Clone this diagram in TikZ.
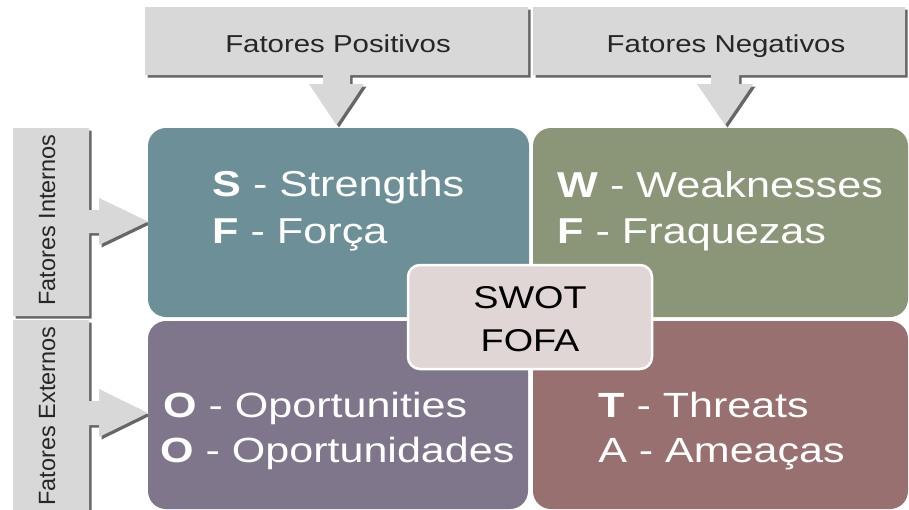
\documentclass[tikz,border=0pt]{standalone}
\usepackage{fontspec}
\setmainfont{Liberation Sans}
\definecolor{callgray}{RGB}{216,216,216}
\definecolor{sfill}{RGB}{109,143,151}
\definecolor{wfill}{RGB}{139,149,119}
\definecolor{ofill}{RGB}{127,118,140}
\definecolor{tfill}{RGB}{152,112,112}
\definecolor{cfill}{RGB}{224,214,214}
\tikzset{
  callout/.style={fill=callgray, preaction={fill=black!70, opacity=0.85, transform canvas={shift={(2.5pt,-2.5pt)}}}},
  quad/.style={rounded corners=18pt},
  lbl/.style={font=\fontsize{24.5}{29}\selectfont, xscale=1.2, inner sep=0pt, anchor=base, text=black!85},
  side/.style={font=\fontsize{23.5}{28}\selectfont, rotate=90, inner sep=0pt, anchor=base, text=black!85},
  big/.style={text=white, font=\fontsize{36}{43}\selectfont, xscale=1.2, inner sep=0pt, anchor=base west},
  bigb/.style={text=white, font=\fontsize{35}{42}\selectfont, xscale=1.23, inner sep=0pt, anchor=base west},
  swotlbl/.style={text=black, font=\fontsize{31.5}{36}\selectfont, xscale=1.2, inner sep=0pt, anchor=base},
  centerbox/.style={draw=white, line width=2.5pt, fill=cfill, rounded corners=12pt, minimum width=244pt, minimum height=104pt, inner sep=0pt}
}
\begin{document}
\begin{tikzpicture}[x=1pt,y=-1pt]
\useasboundingbox (0,0) rectangle (909,509);
\clip (0,0) rectangle (909,509);
\fill[white] (0,0) rectangle (909,509);

% top callouts
\fill[callout] (145,7) -- (528,7) -- (528,75) -- (350,75) -- (350,84) -- (364,84) -- (336.5,125) -- (309,84) -- (323,84) -- (323,75) -- (145,75) -- cycle;
\fill[callout] (533,7) -- (905,7) -- (905,75) -- (739,75) -- (739,84) -- (753,84) -- (725,125) -- (697,84) -- (711,84) -- (711,75) -- (533,75) -- cycle;
% left callouts
\fill[callout] (13,128) -- (89,128) -- (89,210) -- (99,210) -- (99,198) -- (148,221.5) -- (99,245) -- (99,233) -- (89,233) -- (89,316) -- (13,316) -- cycle;
\fill[callout] (13,320) -- (89,320) -- (89,401) -- (99,401) -- (99,389) -- (148,413) -- (99,437) -- (99,425) -- (89,425) -- (89,520) -- (13,520) -- cycle;

% quadrants
\fill[sfill, quad] (148,128) rectangle (529,317);
\fill[wfill, quad] (533,128) rectangle (908,317);
\fill[ofill, quad] (148,321) rectangle (528,509);
\fill[tfill, quad] (533,321) rectangle (908,509);

% center box
\node[centerbox] (center) at (530,317) {};

% labels
\node[lbl] (pos) at (338,52) {Fatores Positivos};
\node[lbl] (neg) at (726,52) {Fatores Negativos};
\node[side] (int) at (55,220) {Fatores Internos};
\node[side] (ext) at (55,416) {Fatores Externos};

\node[big] (s) at (212,196) {\textbf{S} - Strengths};
\node[big] (f1) at (212,243) {\textbf{F} - Força};
\node[big] (w) at (557,197) {\textbf{W} - Weaknesses};
\node[big] (f2) at (557,243) {\textbf{F} - Fraquezas};
\node[bigb] (o1) at (163,417) {\textbf{O} - Oportunities};
\node[bigb] (o2) at (160,462) {\textbf{O} - Oportunidades};
\node[bigb] (t) at (598,417) {\textbf{T} - Threats};
\node[bigb] (a) at (598,462) {A - Ameaças};

\node[swotlbl] (sw) at (530,308) {SWOT};
\node[swotlbl] (fo) at (530,351) {FOFA};
\end{tikzpicture}
\end{document}
